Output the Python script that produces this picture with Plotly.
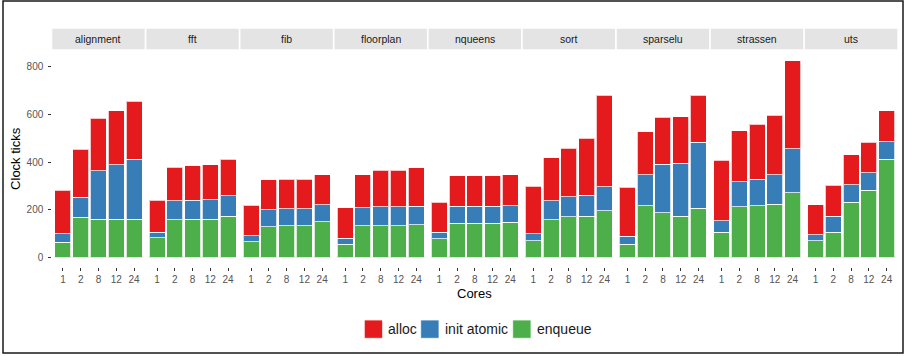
import plotly.graph_objects as go

# ---- data -------------------------------------------------------------
benchmarks = ["alignment", "fft", "fib", "floorplan", "nqueens",
              "sort", "sparselu", "strassen", "uts"]
cores = ["1", "2", "8", "12", "24"]

# clock ticks per phase, one row per benchmark, one column per core count
enqueue = [
    [64, 168, 161, 160, 160],
    [82, 159, 161, 161, 172],
    [66, 128, 133, 133, 149],
    [56, 133, 134, 134, 137],
    [78, 144, 144, 144, 148],
    [71, 158, 170, 174, 197],
    [56, 218, 187, 174, 207],
    [105, 212, 216, 223, 272],
    [70, 105, 232, 283, 412],
]
init_atomic = [
    [36, 85, 203, 228, 252],
    [24, 78, 80, 82, 86],
    [26, 72, 71, 71, 72],
    [25, 76, 78, 78, 77],
    [27, 70, 70, 70, 70],
    [29, 79, 84, 86, 99],
    [33, 128, 205, 221, 276],
    [49, 105, 112, 123, 184],
    [25, 69, 74, 73, 74],
]
alloc = [
    [183, 201, 220, 228, 243],
    [134, 141, 144, 146, 154],
    [127, 125, 125, 124, 127],
    [128, 137, 154, 154, 162],
    [127, 129, 129, 129, 128],
    [199, 182, 205, 241, 384],
    [206, 182, 196, 195, 198],
    [254, 215, 230, 250, 370],
    [126, 128, 125, 127, 130],
]
y_ticks = [0, 200, 400, 600, 800]

# ---- styling ------------------------------------------------------------
W, H = 906, 356
FONT = "Liberation Sans, Arial, Helvetica, sans-serif"
colors = {"alloc": "#E41A1C", "init atomic": "#377EB8", "enqueue": "#4DAF4A"}
outline = "rgba(255,255,255,0.75)"

# panel geometry in pixels
panel_left, panel_right = 52.3, 897.3
gap = 1.7
n = len(benchmarks)
fw = (panel_right - panel_left - gap * (n - 1)) / n
panel_top, panel_bottom = 50.5, 267.3
strip_top, strip_bottom = 28.7, 49.3


def px(x):
    return x / W


def py(y):
    return 1 - y / H


fig = go.Figure()
layout = dict(
    width=W, height=H,
    margin=dict(l=0, r=0, t=0, b=0, pad=0),
    paper_bgcolor="white", plot_bgcolor="white",
    barmode="stack", bargap=0.1,
    showlegend=False,
    font=dict(family=FONT, color="#1a1a1a"),
)

shapes, annotations = [], []

series = [("enqueue", enqueue), ("init atomic", init_atomic), ("alloc", alloc)]

for i, name in enumerate(benchmarks):
    ax = "" if i == 0 else str(i + 1)
    for label, values in series:
        fig.add_trace(go.Bar(
            x=cores, y=values[i], name=label,
            xaxis="x" + ax, yaxis="y",
            marker=dict(color=colors[label], line=dict(color=outline, width=1)),
        ))
    x0 = panel_left + i * (fw + gap)
    x1 = x0 + fw
    layout["xaxis" + ax] = dict(
        domain=[px(x0), px(x1)], anchor="y",
        type="category", categoryorder="array", categoryarray=cores,
        range=[-0.6, len(cores) - 0.4],
        showgrid=False, zeroline=False, showline=False,
        ticks="outside", ticklen=3, tickwidth=1, tickcolor="#333333",
        tickfont=dict(size=10, color="#555555", family=FONT),
        automargin=False, fixedrange=True,
    )
    # facet strip
    shapes.append(dict(type="rect", xref="paper", yref="paper",
                       x0=px(x0), x1=px(x1), y0=py(strip_bottom), y1=py(strip_top),
                       fillcolor="#e4e4e4", line=dict(width=0), layer="below"))
    annotations.append(dict(text=name, xref="paper", yref="paper",
                            x=px((x0 + x1) / 2), y=py((strip_top + strip_bottom) / 2),
                            showarrow=False, xanchor="center", yanchor="middle",
                            font=dict(size=10.5, color="#1a1a1a", family=FONT)))

# shared value axis: 0 at 257.5px, 800 at 66.7px
y_lo = -(panel_bottom - 257.5) / ((257.5 - 66.7) / 800)
y_hi = (257.5 - panel_top) / ((257.5 - 66.7) / 800)
layout["yaxis"] = dict(
    domain=[py(panel_bottom), py(panel_top)], anchor="x",
    range=[y_lo, y_hi], tickvals=y_ticks,
    showgrid=False, zeroline=False, showline=False,
    ticks="outside", ticklen=3, tickwidth=1, tickcolor="#333333",
    ticklabelstandoff=3,
    tickfont=dict(size=10, color="#555555", family=FONT),
    automargin=False, fixedrange=True,
)

# axis titles
annotations.append(dict(text="Clock ticks", xref="paper", yref="paper",
                        x=px(16), y=py((panel_top + panel_bottom) / 2), textangle=-90,
                        showarrow=False, xanchor="center", yanchor="middle",
                        font=dict(size=13, color="black", family=FONT)))
annotations.append(dict(text="Cores", xref="paper", yref="paper",
                        x=px((panel_left + panel_right) / 2), y=py(293),
                        showarrow=False, xanchor="center", yanchor="middle",
                        font=dict(size=13, color="black", family=FONT)))

# legend keys along the bottom
legend_items = [("alloc", 364.3), ("init atomic", 420.7), ("enqueue", 512.7)]
key = 18.3
ky0, ky1 = 320.0, 338.3
for label, kx in legend_items:
    shapes.append(dict(type="rect", xref="paper", yref="paper",
                       x0=px(kx), x1=px(kx + key), y0=py(ky1), y1=py(ky0),
                       fillcolor=colors[label], line=dict(color=outline, width=1)))
    annotations.append(dict(text=label, xref="paper", yref="paper",
                            x=px(kx + key + 3.5), y=py((ky0 + ky1) / 2),
                            showarrow=False, xanchor="left", yanchor="middle",
                            font=dict(size=14, color="#1a1a1a", family=FONT)))

# outer frame
shapes.append(dict(type="rect", xref="paper", yref="paper",
                   x0=px(3), x1=px(903), y0=py(353), y1=py(1),
                   fillcolor="rgba(0,0,0,0)", line=dict(color="#1a1a1a", width=1.5)))

layout["shapes"] = shapes
layout["annotations"] = annotations
fig.update_layout(**layout)

fig.write_html("out.html")
